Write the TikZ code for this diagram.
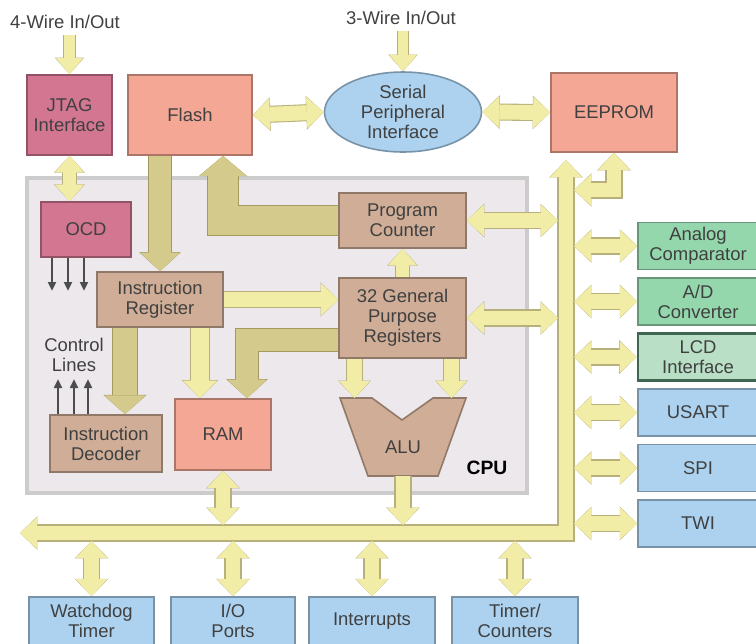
\documentclass[tikz,border=0pt]{standalone}
\usepackage{fontspec}
\setmainfont{Liberation Sans}
\usetikzlibrary{arrows.meta,calc,positioning,shapes.geometric}

\definecolor{arwfill}{HTML}{F2EDA6}
\definecolor{arwedge}{HTML}{B8B07A}
\definecolor{khfill}{HTML}{D3CA8B}
\definecolor{khedge}{HTML}{A39A62}
\definecolor{pinkc}{HTML}{D27692}
\definecolor{salc}{HTML}{F4A794}
\definecolor{tanc}{HTML}{CFAD96}
\definecolor{bluec}{HTML}{ACD2EF}
\definecolor{grnc}{HTML}{94D7AC}
\definecolor{lcdc}{HTML}{B9DFC6}
\definecolor{lcdb}{HTML}{3E6650}
\definecolor{cpuc}{HTML}{ECE8EC}
\definecolor{txtc}{HTML}{404040}

\tikzset{
  lbl/.style={font=\fontsize{10.5}{11.5}\selectfont, text=txtc, align=center},
  box/.style={lbl, draw=#1!70!black, fill=#1, line width=0.9pt, inner sep=1pt},
  fat/.style={line width=#1, draw=arwfill, line join=miter,
    preaction={draw=arwedge, line width=#1+1.2pt}},
  fat/.default=8.5pt,
  kfat/.style={line width=#1, draw=khfill, line join=miter,
    preaction={draw=khedge, line width=#1+1.2pt}},
  ctrl/.style={draw=black!70, line width=1.1pt, -{Triangle[length=5pt,width=4.5pt]}},
}

\begin{document}
\begin{tikzpicture}[x=0.02cm,y=-0.02cm,
  >={Triangle[width=9.5pt 1,length=8pt 0.2,line width=0pt 0]}]
  \useasboundingbox (0,0) rectangle (756,643);

  % --- CPU frame ---
  \node[draw=black!20, fill=cpuc, line width=2.5pt, minimum width=10cm, minimum height=6.3cm] (cpu) at (277,335.5) {};
  \node[font=\bfseries\fontsize{11}{12}\selectfont] (cpulbl) at (487,468) {CPU};

  % --- top row ---
  \node[lbl] (w4) at (65,22) {4-Wire In/Out};
  \node[lbl] (w3) at (401,18) {3-Wire In/Out};
  \node[box=pinkc, minimum width=1.7cm, minimum height=1.6cm] (jtag) at (69.5,115) {JTAG\\Interface};
  \node[box=salc, minimum width=2.48cm, minimum height=1.6cm] (flash) at (190,115) {Flash};
  \node[box=bluec, ellipse, inner sep=0pt, minimum width=3.14cm, minimum height=1.6cm] (spi) at (403,112) {Serial\\Peripheral\\Interface};
  \node[box=salc, minimum width=2.52cm, minimum height=1.58cm] (eeprom) at (614,112.5) {EEPROM};

  % --- inside the CPU ---
  \node[box=pinkc, minimum width=1.8cm, minimum height=1.1cm] (ocd) at (86,229.5) {OCD};
  \node[box=tanc, minimum width=2.52cm, minimum height=1.1cm] (ir) at (160,299.5) {Instruction\\Register};
  \node[box=tanc, minimum width=2.54cm, minimum height=1.1cm] (pc) at (402.5,220.5) {Program\\Counter};
  \node[box=tanc, minimum width=2.54cm, minimum height=1.6cm] (gpr) at (402.5,318) {32 General\\Purpose\\Registers};
  \node[box=tanc, minimum width=2.24cm, minimum height=1.14cm] (dec) at (106,443.5) {Instruction\\Decoder};
  \node[box=salc, minimum width=1.92cm, minimum height=1.42cm] (ram) at (223,434.5) {RAM};
  \node[lbl] (ctl) at (74,355) {Control\\Lines};
  % ALU outline
  \draw[box=tanc] (340,398) -- (372,398) -- (402,420) -- (433,398) -- (466,398)
    -- (438,476) -- (368,476) -- cycle;
  \node[lbl] (alu) at (403,447) {ALU};
  \coordinate (alutl) at (340,398);
  \coordinate (alub) at (403,476);

  % --- peripherals on the right ---
  \node[box=grnc, minimum width=2.4cm, minimum height=0.94cm] (acmp) at (698,246) {Analog\\Comparator};
  \node[box=grnc, minimum width=2.4cm, minimum height=0.94cm] (adc) at (698,301.5) {A/D\\Converter};
  \node[box=lcdc, draw=lcdb, line width=1.6pt, minimum width=2.4cm, minimum height=0.94cm] (lcd) at (698,357) {LCD\\Interface};
  \node[box=bluec, minimum width=2.4cm, minimum height=0.94cm] (usart) at (698,412.5) {USART};
  \node[box=bluec, minimum width=2.4cm, minimum height=0.94cm] (spib) at (698,468) {SPI};
  \node[box=bluec, minimum width=2.4cm, minimum height=0.94cm] (twi) at (698,523.5) {TWI};

  % --- peripherals at the bottom ---
  \node[box=bluec, minimum width=2.5cm, minimum height=0.96cm] (wdt) at (91.5,621) {Watchdog\\Timer};
  \node[box=bluec, minimum width=2.48cm, minimum height=0.96cm] (iop) at (233,621) {I/O\\Ports};
  \node[box=bluec, minimum width=2.52cm, minimum height=0.96cm] (irq) at (372,621) {Interrupts};
  \node[box=bluec, minimum width=2.52cm, minimum height=0.96cm] (tmr) at (515,621) {Timer/\\Counters};

  % --- data bus ---
  \coordinate (bustop) at (566,160);
  \coordinate (buscnr) at (566,533);
  \coordinate (busend) at (20,533);
  \draw[fat, <->] (bustop) -- (buscnr) -- (busend);

  % --- top connections ---
  \draw[fat=6pt, ->] (jtag.north |- w4.south) -- (jtag.north);
  \draw[fat=6pt, ->] (spi.north |- w3.south) -- (spi.north);
  \draw[fat, <->] (flash.east) -- (spi.west);
  \draw[fat, <->] (spi.east) -- (eeprom.west);
  \draw[fat, <->] ($(bustop)+(8,30)$) -| (eeprom.south);
  \draw[fat=7pt, <->] (jtag.south) -- (jtag.south |- ocd.north);

  % --- CPU internal paths ---
  \draw[kfat=13pt, ->] (ir.north |- flash.south) -- (ir.north);
  \draw[kfat=17pt, ->] (pc.west) -| ($(flash.south)+(33,0)$);
  \draw[fat=7pt, ->] (gpr.north) -- (pc.south);
  \draw[fat=9pt, ->] (ir.east) -- (ir.east -| gpr.west);
  \draw[kfat=13pt, ->] ($(gpr.west)+(0,22)$) -| ($(ram.north)+(24,0)$);
  \coordinate (irr) at ($(ir.south)+(40,0)$);
  \coordinate (irl) at ($(ir.south)+(-35,0)$);
  \draw[fat=10pt, ->] (irr) -- (irr |- ram.north);
  \draw[kfat=14pt, ->] (irl) -- (irl |- dec.north);
  \coordinate (gl) at ($(gpr.south)+(-48,0)$);
  \coordinate (gr) at ($(gpr.south)+(49,0)$);
  \draw[fat=8pt, ->] (gl) -- (gl |- alutl);
  \draw[fat=8pt, ->] (gr) -- (gr |- alutl);

  % control lines
  \foreach \dx in {-34,-18,-2}
    \draw[ctrl] ($(ocd.south)+(\dx,0)$) -- ++(0,33);
  \foreach \dx in {-48,-32,-18}
    \draw[ctrl] ($(dec.north)+(\dx,0)$) -- ++(0,-35);

  % --- links to the bus ---
  \draw[fat, <->] (pc.east) -- ($(pc.east -| bustop)+(-8,0)$);
  \draw[fat, <->] (gpr.east) -- ($(gpr.east -| bustop)+(-8,0)$);
  \draw[fat, <->] (ram.south) -- ($(ram.south |- busend)+(0,-8)$);
  \draw[fat, ->] (alub) -- ($(alub |- busend)+(0,-8)$);
  \foreach \p in {acmp,adc,lcd,usart,spib,twi}
    \draw[fat, <->] ($(\p.west -| bustop)+(8,0)$) -- (\p.west);
  \foreach \p in {wdt,iop,irq,tmr}
    \draw[fat, <->] ($(\p.north |- busend)+(0,8)$) -- (\p.north);
\end{tikzpicture}
\end{document}
